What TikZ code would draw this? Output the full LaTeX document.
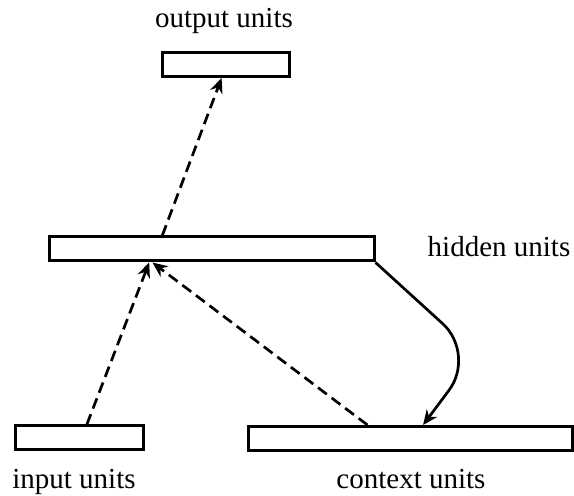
\documentclass[tikz,border=0pt]{standalone}
\usepackage{fontspec}
\setmainfont{Liberation Serif}
\usetikzlibrary{arrows.meta,calc}
\begin{document}
\begin{tikzpicture}[x=1pt,y=1pt,
  unitbox/.style={draw,line width=3pt,fill=white,minimum height=24pt,inner sep=0pt},
  lbl/.style={anchor=base,inner sep=0pt,font=\fontsize{29}{34}\selectfont},
  link/.style={line width=2.7pt,-{Stealth[length=15pt,width=13pt,inset=5pt]}},
  dashlink/.style={link,dash pattern=on 11pt off 6pt}]
\useasboundingbox (0,0) rectangle (574,496);
% layer boxes
\node[unitbox,minimum width=127pt] (out) at (225.5,431.5) {};
\node[unitbox,minimum width=325pt] (hid) at (211.5,247) {};
\node[unitbox,minimum width=128pt] (inp) at (79,58) {};
\node[unitbox,minimum width=324pt] (ctx) at (410,57.5) {};
% labels
\node[lbl] (outl) at (224,468) {output units};
\node[lbl] (hidl) at (499,239) {hidden units};
\node[lbl] (inpl) at (74,7) {input units};
\node[lbl] (ctxl) at (411,7) {context units};
% connections
\coordinate (a1) at ($(inp.north west)!0.56!(inp.north east)$);
\coordinate (a2) at ($(hid.south west)!0.31!(hid.south east)$);
\coordinate (b1) at ($(hid.north west)!0.35!(hid.north east)$);
\coordinate (b2) at ($(out.south west)!0.47!(out.south east)$);
\coordinate (c1) at ($(ctx.north west)!0.37!(ctx.north east)$);
\coordinate (c2) at ($(hid.south west)!0.32!(hid.south east)$);
\coordinate (d2) at ($(ctx.north west)!0.54!(ctx.north east)$);
\coordinate (bend) at (476,142);
\draw[dashlink] (a1) -- (a2);
\draw[dashlink] (b1) -- (b2);
\draw[dashlink] (c1) -- (c2);
\draw[link,rounded corners=45pt] (hid.south east) -- (bend) -- (d2);
\end{tikzpicture}
\end{document}
